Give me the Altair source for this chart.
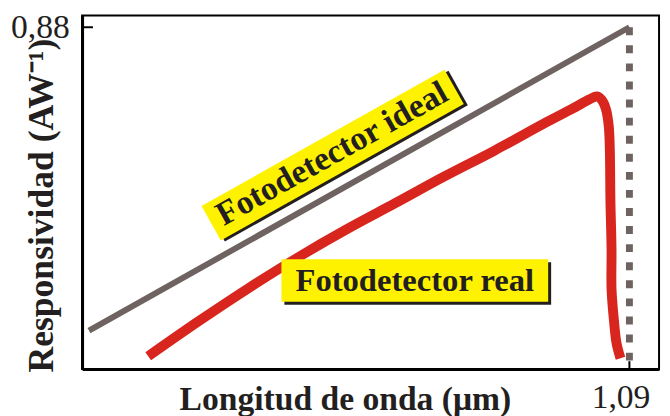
import altair as alt
import pandas as pd

# ---- data ----
wavelength_ideal = [0.123, 1.09]
resp_ideal = [0.099, 0.88]

wavelength_real = [0.229, 0.318, 0.406, 0.494, 0.583, 0.671, 0.759, 0.848, 0.936, 0.989,
                   1.018, 1.032, 1.041, 1.048, 1.053, 1.055, 1.056, 1.058, 1.058, 1.062, 1.067, 1.074]
resp_real = [0.033, 0.122, 0.206, 0.285, 0.359, 0.427, 0.496, 0.562, 0.631, 0.671,
             0.694, 0.702, 0.692, 0.669, 0.626, 0.562, 0.435, 0.308, 0.206, 0.130, 0.066, 0.028]

cutoff_wavelength = [1.09]
cutoff_resp = [0.88]

x_tick_values = [1.09]
y_tick_values = [0.88]

label_ideal = ["Fotodetector ideal"]
label_ideal_pos = [0.559, 0.551]
label_real = ["Fotodetector real"]
label_real_pos = [0.706, 0.228]

GRAY = "#6e6360"
RED = "#d8261e"
YELLOW = "#fff200"
INK = "#231f20"

ideal_df = pd.DataFrame({"lam": wavelength_ideal, "R": resp_ideal})
real_df = pd.DataFrame({"lam": wavelength_real, "R": resp_real,
                        "ord": list(range(len(wavelength_real)))})
cut_df = pd.DataFrame({"lam": cutoff_wavelength, "R": cutoff_resp})
xt_df = pd.DataFrame({"lam": x_tick_values})
yt_df = pd.DataFrame({"R": y_tick_values})
li_df = pd.DataFrame({"lam": [label_ideal_pos[0]], "R": [label_ideal_pos[1]], "t": label_ideal})
lr_df = pd.DataFrame({"lam": [label_real_pos[0]], "R": [label_real_pos[1]], "t": label_real})

xs = alt.Scale(domain=[0.1107, 1.143], nice=False, zero=False)
ys = alt.Scale(domain=[0, 0.9105], nice=False, zero=False)

x_axis = alt.Axis(
    values=x_tick_values, grid=False, ticks=False, tickSize=0,
    domainColor="black", domainWidth=3,
    labelExpr="replace(format(datum.value, '.2f'), '.', ',')",
    labelFont="Liberation Serif", labelFontSize=34, labelColor=INK,
    labelPadding=12, labelOffset=-9,
    title="Longitud de onda (μm)", titleFont="Liberation Serif", titleFontWeight="bold",
    titleFontSize=34, titleColor=INK, titleX=266, titleY=41,
    titleAlign="center", titleBaseline="alphabetic",
)
y_axis = alt.Axis(
    values=y_tick_values, grid=False, ticks=False, tickSize=0,
    domainColor="black", domainWidth=3,
    labelExpr="replace(format(datum.value, '.2f'), '.', ',')",
    labelFont="Liberation Serif", labelFontSize=34, labelColor=INK,
    labelPadding=13, labelBaseline="middle",
    title="Responsividad (AW⁻¹)", titleFont="Liberation Serif", titleFontWeight="bold",
    titleFontSize=36, titleColor=INK, titleX=-41, titleY=192, titleAngle=270,
    titleAlign="center", titleBaseline="middle",
)

X = alt.X("lam:Q", scale=xs, axis=x_axis)
Y = alt.Y("R:Q", scale=ys, axis=y_axis)
Xp = alt.X("lam:Q", scale=xs)
Yp = alt.Y("R:Q", scale=ys)

ideal = alt.Chart(ideal_df).mark_line(color=GRAY, strokeWidth=6, strokeCap="butt").encode(x=X, y=Y)

cutoff = alt.Chart(cut_df).mark_rule(color=GRAY, strokeWidth=7, strokeDash=[8, 10.3],
                                     strokeCap="butt").encode(x=Xp, y=Yp, y2=alt.datum(0))

real = alt.Chart(real_df).mark_line(color=RED, strokeWidth=10, strokeCap="butt",
                                    strokeJoin="round", interpolate="catmull-rom").encode(
    x=Xp, y=Yp, order="ord:Q")

# label boxes (rotated rectangles as custom symbols)
hi = 20 / 141
box_ideal_path = f"M-1,{-hi} L1,{-hi} L1,{hi} L-1,{hi} Z"
o = 3 / 141
shadow_ideal_path = f"M{-1+o},{-hi+o} L{1+o},{-hi+o} L{1+o},{hi+o} L{-1+o},{hi+o} Z"
hr = 21.5 / 135
box_real_path = f"M-1,{-hr} L1,{-hr} L1,{hr} L-1,{hr} Z"
o2 = 3 / 135
shadow_real_path = f"M{-1+o2},{-hr+o2} L{1+o2},{-hr+o2} L{1+o2},{hr+o2} L{-1+o2},{hr+o2} Z"

ANG = 330.7
shadow_i = alt.Chart(li_df).mark_point(shape=shadow_ideal_path, size=282 ** 2, angle=ANG, filled=True,
                                       color=INK, opacity=1, strokeWidth=0).encode(x=Xp, y=Yp)
box_i = alt.Chart(li_df).mark_point(shape=box_ideal_path, size=282 ** 2, angle=ANG, filled=True,
                                    color=YELLOW, opacity=1, strokeWidth=0).encode(x=Xp, y=Yp)
text_i = alt.Chart(li_df).mark_text(font="Liberation Serif", fontWeight="bold", fontSize=34,
                                    color=INK, angle=ANG, align="center", baseline="middle",
                                    dy=-1).encode(x=Xp, y=Yp, text="t:N")

shadow_r = alt.Chart(lr_df).mark_point(shape=shadow_real_path, size=270 ** 2, filled=True,
                                       color=INK, opacity=1, strokeWidth=0).encode(x=Xp, y=Yp)
box_r = alt.Chart(lr_df).mark_point(shape=box_real_path, size=270 ** 2, filled=True,
                                    color=YELLOW, opacity=1, strokeWidth=0).encode(x=Xp, y=Yp)
text_r = alt.Chart(lr_df).mark_text(font="Liberation Serif", fontWeight="bold", fontSize=33,
                                    color=INK, align="center", baseline="middle",
                                    dy=1).encode(x=Xp, y=Yp, text="t:N")

# inward tick marks
ytick = alt.Chart(yt_df).mark_rule(color="black", strokeWidth=2).encode(
    y=Yp, x=alt.value(0), x2=alt.value(11))
xtick = alt.Chart(xt_df).mark_rule(color="black", strokeWidth=2).encode(
    x=Xp, y=alt.value(358), y2=alt.value(350))

chart = alt.layer(
    ideal, cutoff, real, shadow_i, box_i, text_i, shadow_r, box_r, text_r, ytick, xtick
).properties(
    width=584, height=358,
    autosize=alt.AutoSizeParams(type="none"),
    padding={"left": 75, "top": 5, "right": 3, "bottom": 45},
).configure_view(stroke="black", strokeWidth=2)

chart.save("out.html", embed_options={"renderer": "svg", "actions": False})
